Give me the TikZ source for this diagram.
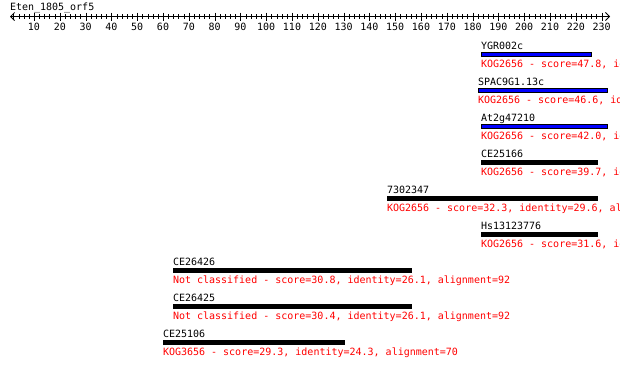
\documentclass[tikz,border=0pt]{standalone}
\usepackage{fontspec}
\newfontfamily\monofont{DejaVu Sans Mono}
\usetikzlibrary{arrows.meta}
\definecolor{hitred}{RGB}{255,0,0}
\definecolor{hitblue}{RGB}{0,0,255}
\tikzset{
  txt/.style={anchor=base west,inner sep=0pt,outer sep=0pt,font=\monofont\fontsize{10bp}{12bp}\selectfont},
  lbl/.style={txt,text=black},
  info/.style={txt,text=hitred},
  axnum/.style={txt,anchor=base},
  bluebar/.style={fill=hitblue,draw=black,line width=1bp},
  blackbar/.style={fill=black},
  axis/.style={line width=1bp,{Straight Barb[length=4bp,width=8bp,line width=0.8bp]}-{Straight Barb[length=4bp,width=8bp,line width=0.8bp]}},
  tick/.style={line width=1bp}
}
\begin{document}
\begin{tikzpicture}[x=1bp,y=-1bp]
\useasboundingbox (0,0) rectangle (620,365);
\clip (0,0) rectangle (620,365);
\fill[white] (0,0) rectangle (620,365);
% title
\node[lbl] (title) at (10,10) {Eten\textunderscore1805\textunderscore orf5};
% axis
\coordinate (axL) at (10,16.5);
\coordinate (axR) at (610,16.5);
\draw[axis] (axL) -- (axR);
\foreach \p in {2,4,...,228}{
  \draw[tick] ({8.2+2.58*\p+0.5},14) -- ({8.2+2.58*\p+0.5},19);
}
\foreach \p in {10,20,...,230}{
  \draw[tick] ({8.2+2.58*\p+0.5},12.5) -- ({8.2+2.58*\p+0.5},20.5);
  \node[axnum] (n\p) at ({8.2+2.58*\p},30) {\p};
}
% hits: x1, x2, row index, bar style, name, info
\newcommand{\hit}[6]{%
  \pgfmathsetmacro{\yb}{49+36*#3}%
  \pgfmathsetmacro{\yt}{52+36*#3}%
  \pgfmathsetmacro{\yr}{67+36*#3}%
  \ifnum#4=1
    \draw[bluebar] (#1+0.5,\yt+0.5) rectangle (#2-0.5,\yt+4.5);
  \else
    \fill[blackbar] (#1,\yt) rectangle (#2,\yt+5);
  \fi
  \node[lbl] (name#3) at (#1,\yb) {#5};
  \node[info] (info#3) at (#1,\yr) {#6};
}
\hit{481}{592}{0}{1}{YGR002c}{KOG2656 - score=47.8, id}
\hit{478}{608}{1}{1}{SPAC9G1.13c}{KOG2656 - score=46.6, id}
\hit{481}{608}{2}{1}{At2g47210}{KOG2656 - score=42.0, id}
\hit{481}{598}{3}{0}{CE25166}{KOG2656 - score=39.7, id}
\hit{387}{598}{4}{0}{7302347}{KOG2656 - score=32.3, identity=29.6, al}
\hit{481}{598}{5}{0}{Hs13123776}{KOG2656 - score=31.6, id}
\hit{173}{412}{6}{0}{CE26426}{Not classified - score=30.8, identity=26.1, alignment=92}
\hit{173}{412}{7}{0}{CE26425}{Not classified - score=30.4, identity=26.1, alignment=92}
\hit{163}{345}{8}{0}{CE25106}{KOG3656 - score=29.3, identity=24.3, alignment=70}
\end{tikzpicture}
\end{document}
